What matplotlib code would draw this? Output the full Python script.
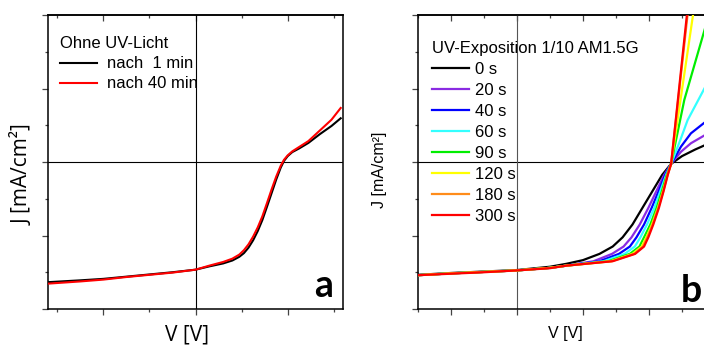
import matplotlib
matplotlib.use('Agg')
import matplotlib.pyplot as plt

# panel a: without UV light
v_a = [-3.2, -2.5, -2.0, -1.5, -1.0, -0.5, 0.0, 0.3, 0.6, 0.8, 0.95, 1.05, 1.15, 1.25,
       1.35, 1.45, 1.55, 1.65, 1.75, 1.85, 1.92, 2.0, 2.1, 2.25, 2.45, 2.7, 2.95, 3.15]
j_a_1min = [-3.27, -3.22, -3.18, -3.12, -3.06, -3.00, -2.93, -2.84, -2.76, -2.68, -2.58,
            -2.48, -2.33, -2.13, -1.88, -1.58, -1.22, -0.85, -0.48, -0.15, 0.03, 0.16,
            0.27, 0.37, 0.52, 0.76, 0.98, 1.19]
j_a_40min = [-3.31, -3.25, -3.20, -3.13, -3.07, -3.01, -2.93, -2.82, -2.72, -2.63, -2.52,
             -2.40, -2.24, -2.03, -1.78, -1.48, -1.12, -0.75, -0.40, -0.10, 0.06, 0.18,
             0.29, 0.41, 0.57, 0.86, 1.15, 1.47]
labels_a = ['nach  1 min', 'nach 40 min']
colors_a = ['black', 'red']

# panel b: UV exposure times
labels_b = ['0 s', '20 s', '40 s', '60 s', '90 s', '120 s', '180 s', '300 s']
colors_b = ['black', '#8a2be2', '#0000ff', '#33ffff', '#00ee00', '#ffff00', '#ff8c1a', '#ff0000']

v_b_0 = [-3.0, -2.0, -1.0, 0.0, 1.0, 1.5, 2.0, 2.5, 2.9, 3.2, 3.5, 3.8, 4.1, 4.4, 4.67, 5.0, 5.4, 5.75]
j_b_0 = [-3.07, -3.02, -2.98, -2.94, -2.85, -2.77, -2.67, -2.50, -2.30, -2.05, -1.70, -1.25,
         -0.80, -0.35, -0.05, 0.16, 0.34, 0.48]
v_b_20 = [-3.0, -2.0, -1.0, 0.0, 1.0, 1.5, 2.32, 2.88, 3.23, 3.47, 3.72, 3.98, 4.22, 4.46, 4.67, 4.97, 5.27, 5.75]
j_b_20 = [-3.08, -3.03, -2.99, -2.95, -2.88, -2.82, -2.70, -2.50, -2.30, -2.05, -1.70, -1.25,
          -0.80, -0.35, -0.05, 0.28, 0.51, 0.76]
v_b_40 = [-3.0, -2.0, -1.0, 0.0, 1.0, 1.5, 2.50, 3.09, 3.42, 3.62, 3.85, 4.08, 4.29, 4.49, 4.67, 4.97, 5.27, 5.75]
j_b_40 = [-3.08, -3.03, -2.99, -2.95, -2.88, -2.82, -2.70, -2.50, -2.30, -2.05, -1.70, -1.25,
          -0.80, -0.35, -0.05, 0.42, 0.78, 1.12]
v_b_60 = [-3.0, -2.0, -1.0, 0.0, 1.0, 1.5, 2.63, 3.26, 3.57, 3.74, 3.94, 4.16, 4.34, 4.52, 4.67, 4.95, 5.17, 5.75]
j_b_60 = [-3.08, -3.03, -2.99, -2.95, -2.88, -2.82, -2.70, -2.50, -2.30, -2.05, -1.70, -1.25,
          -0.80, -0.35, -0.05, 0.60, 1.14, 2.12]
v_b_90 = [-3.0, -2.0, -1.0, 0.0, 1.0, 1.5, 2.77, 3.42, 3.71, 3.85, 4.04, 4.23, 4.39, 4.54, 4.67, 5.07, 5.75]
j_b_90 = [-3.08, -3.03, -2.99, -2.95, -2.88, -2.82, -2.70, -2.50, -2.30, -2.05, -1.70, -1.25,
          -0.80, -0.35, -0.05, 1.69, 3.80]
v_b_120 = [-3.0, -2.0, -1.0, 0.0, 1.0, 1.5, 2.84, 3.50, 3.78, 3.92, 4.09, 4.27, 4.42, 4.56, 4.67, 5.35]
j_b_120 = [-3.08, -3.03, -2.99, -2.95, -2.88, -2.82, -2.70, -2.50, -2.30, -2.05, -1.70, -1.25,
           -0.80, -0.35, -0.05, 4.10]
v_b_180 = [-3.0, -2.0, -1.0, 0.0, 1.0, 1.5, 2.87, 3.55, 3.82, 3.95, 4.11, 4.28, 4.43, 4.56, 4.67, 5.18]
j_b_180 = [-3.08, -3.03, -2.99, -2.95, -2.88, -2.82, -2.70, -2.50, -2.30, -2.05, -1.70, -1.25,
           -0.80, -0.35, -0.05, 4.10]
v_b_300 = [-3.0, -2.0, -1.0, 0.0, 1.0, 1.5, 2.90, 3.58, 3.85, 3.98, 4.13, 4.30, 4.44, 4.57, 4.67, 5.16]
j_b_300 = [-3.08, -3.04, -3.00, -2.95, -2.89, -2.82, -2.70, -2.50, -2.30, -2.05, -1.70, -1.25,
           -0.80, -0.35, -0.05, 4.10]

v_b = [v_b_0, v_b_20, v_b_40, v_b_60, v_b_90, v_b_120, v_b_180, v_b_300]
j_b = [j_b_0, j_b_20, j_b_40, j_b_60, j_b_90, j_b_120, j_b_180, j_b_300]

leg_font = 'Liberation Sans'
tick_col = '#444444'


def style_axes(ax, xmajor, xminor, vcol):
    ax.set_ylim(-4, 4)
    ax.set_yticks([-4, -2, 0, 2, 4])
    ax.set_yticks([-3, -1, 1, 3], minor=True)
    ax.set_xticks(xmajor)
    ax.set_xticks(xminor, minor=True)
    ax.tick_params(which='both', direction='out', color=tick_col, width=0.9,
                   labelleft=False, labelbottom=False)
    ax.tick_params(which='major', length=4.5)
    ax.tick_params(which='minor', length=2.2)
    for s in ax.spines.values():
        s.set_linewidth(1.1)
    top = ax.secondary_xaxis('top')
    top.set_xticks(xmajor)
    top.set_xticks(xminor, minor=True)
    top.tick_params(which='both', direction='in', color=tick_col, width=0.9, labeltop=False)
    top.tick_params(which='major', length=4.5)
    top.tick_params(which='minor', length=2.2)
    top.spines['top'].set_linewidth(1.1)
    ax.axhline(0, color='black', lw=0.8, zorder=1)
    ax.axvline(0, color=vcol, lw=0.8, zorder=1)


fig = plt.figure(figsize=(7.04, 3.46), dpi=100)

# ---- panel a
ax1 = fig.add_axes([48 / 704, 37 / 346, 295 / 704, 294 / 346])
ax1.set_xlim(-3.2, 3.2)
style_axes(ax1, [-2, 0, 2], [-3, -1, 1, 3], 'black')
for jj, lab, c in zip([j_a_1min, j_a_40min], labels_a, colors_a):
    ax1.plot(v_a, jj, color=c, lw=1.5, label=lab, zorder=3)
ax1.set_xlabel('V [V]', fontsize=15, family='Open Sans', va='center')
ax1.xaxis.set_label_coords(0.471, -0.09)
ax1.set_ylabel('J [mA/cm²]', fontsize=15, family='Open Sans', va='center')
ax1.yaxis.set_label_coords(-0.085, 0.457)
leg1 = ax1.legend(title='Ohne UV-Licht', loc='upper left', bbox_to_anchor=(0.042, 0.927),
                  frameon=False, borderpad=0, borderaxespad=0, handlelength=2.2,
                  handletextpad=0.6, labelspacing=0.3, alignment='left',
                  prop={'family': leg_font, 'size': 12})
leg1.get_title().set_fontfamily(leg_font)
leg1.get_title().set_fontsize(12)
ax1.text(0.966, 0.041, 'a', transform=ax1.transAxes, ha='right', va='baseline',
         fontsize=27, fontweight='bold', family='Lato')

# ---- panel b (cut off at the right edge of the picture)
ax2 = fig.add_axes([418 / 704, 37 / 346, 297 / 704, 294 / 346])
ax2.set_xlim(-3, 6)
style_axes(ax2, [-2, 0, 2, 4], [-3, -1, 1, 3, 5], '#555555')
ax2.spines['right'].set_visible(False)
for vv, jj, lab, c in zip(v_b, j_b, labels_b, colors_b):
    ax2.plot(vv, jj, color=c, lw=1.6, label=lab, zorder=3)
ax2.set_xlabel('V [V]', fontsize=11.5, family=leg_font, va='center')
ax2.xaxis.set_label_coords(0.495, -0.082)
ax2.set_ylabel('J [mA/cm²]', fontsize=11.5, family=leg_font, va='center')
ax2.yaxis.set_label_coords(-0.131, 0.473)
leg2 = ax2.legend(title='UV-Exposition 1/10 AM1.5G', loc='upper left', bbox_to_anchor=(0.048, 0.912),
                  frameon=False, borderpad=0, borderaxespad=0, handlelength=2.2,
                  handletextpad=0.35, labelspacing=0.36, alignment='left',
                  prop={'family': leg_font, 'size': 12})
leg2.get_title().set_fontfamily(leg_font)
leg2.get_title().set_fontsize(12)
ax2.text(0.886, 0.024, 'b', transform=ax2.transAxes, ha='left', va='baseline',
         fontsize=27, fontweight='bold', family='Lato')

fig.savefig('out.png', dpi=100)
plt.close(fig)
